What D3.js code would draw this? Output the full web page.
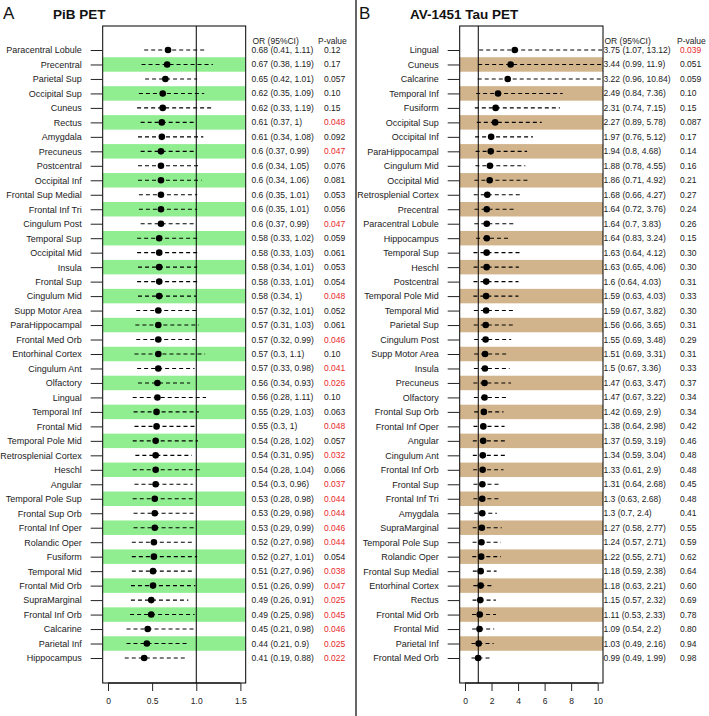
<!DOCTYPE html>
<html><head><meta charset="utf-8">
<script src="https://cdn.jsdelivr.net/npm/d3@7"></script>
<style>body{margin:0;background:#fff}svg{display:block;font-family:"Liberation Sans",Arial,sans-serif}</style>
</head><body><svg id="c" width="709" height="716"></svg>
<script>
// ---------- Data: PiB PET ----------
const pibRegions = ["Paracentral Lobule","Precentral","Parietal Sup","Occipital Sup","Cuneus","Rectus","Amygdala","Precuneus","Postcentral","Occipital Inf","Frontal Sup Medial","Frontal Inf Tri","Cingulum Post","Temporal Sup","Occipital Mid","Insula","Frontal Sup","Cingulum Mid","Supp Motor Area","ParaHippocampal","Frontal Med Orb","Entorhinal Cortex","Cingulum Ant","Olfactory","Lingual","Temporal Inf","Frontal Mid","Temporal Pole Mid","Retrosplenial Cortex","Heschl","Angular","Temporal Pole Sup","Frontal Sup Orb","Frontal Inf Oper","Rolandic Oper","Fusiform","Temporal Mid","Frontal Mid Orb","SupraMarginal","Frontal Inf Orb","Calcarine","Parietal Inf","Hippocampus"];
const pibOR = [0.68,0.67,0.65,0.62,0.62,0.61,0.61,0.6,0.6,0.6,0.6,0.6,0.6,0.58,0.58,0.58,0.58,0.58,0.57,0.57,0.57,0.57,0.57,0.56,0.56,0.55,0.55,0.54,0.54,0.54,0.54,0.53,0.53,0.53,0.52,0.52,0.51,0.51,0.49,0.49,0.45,0.44,0.41];
const pibLo = [0.41,0.38,0.42,0.35,0.33,0.37,0.34,0.37,0.34,0.34,0.35,0.35,0.37,0.33,0.33,0.34,0.33,0.34,0.32,0.31,0.32,0.3,0.33,0.34,0.28,0.29,0.3,0.28,0.31,0.28,0.3,0.28,0.29,0.29,0.27,0.27,0.27,0.26,0.26,0.25,0.21,0.21,0.19];
const pibHi = [1.11,1.19,1.01,1.09,1.19,1,1.08,0.99,1.05,1.06,1.01,1.01,0.99,1.02,1.03,1.01,1.01,1,1.01,1.03,0.99,1.1,0.98,0.93,1.11,1.03,1,1.02,0.95,1.04,0.96,0.98,0.98,0.99,0.98,1.01,0.96,0.99,0.91,0.98,0.98,0.9,0.88];
const pibP = ["0.12","0.17","0.057","0.10","0.15","0.048","0.092","0.047","0.076","0.081","0.053","0.056","0.047","0.059","0.061","0.053","0.054","0.048","0.052","0.061","0.046","0.10","0.041","0.026","0.10","0.063","0.048","0.057","0.032","0.066","0.037","0.044","0.044","0.046","0.044","0.054","0.038","0.047","0.025","0.045","0.046","0.025","0.022"];
const pibTicks = [0, 0.5, 1.0, 1.5];
const pibTickLabels = ["0","0.5","1.0","1.5"];

// ---------- Data: AV-1451 Tau PET ----------
const tauRegions = ["Lingual","Cuneus","Calcarine","Temporal Inf","Fusiform","Occipital Sup","Occipital Inf","ParaHippocampal","Cingulum Mid","Occipital Mid","Retrosplenial Cortex","Precentral","Paracentral Lobule","Hippocampus","Temporal Sup","Heschl","Postcentral","Temporal Pole Mid","Temporal Mid","Parietal Sup","Cingulum Post","Supp Motor Area","Insula","Precuneus","Olfactory","Frontal Sup Orb","Frontal Inf Oper","Angular","Cingulum Ant","Frontal Inf Orb","Frontal Sup","Frontal Inf Tri","Amygdala","SupraMarginal","Temporal Pole Sup","Rolandic Oper","Frontal Sup Medial","Entorhinal Cortex","Rectus","Frontal Mid Orb","Frontal Mid","Parietal Inf","Frontal Med Orb"];
const tauOR = [3.75,3.44,3.22,2.49,2.31,2.27,1.97,1.94,1.88,1.86,1.68,1.64,1.64,1.64,1.63,1.63,1.6,1.59,1.59,1.56,1.55,1.51,1.5,1.47,1.47,1.42,1.38,1.37,1.34,1.33,1.31,1.3,1.3,1.27,1.24,1.22,1.18,1.18,1.15,1.11,1.09,1.03,0.99];
const tauLo = [1.07,0.99,0.96,0.84,0.74,0.89,0.76,0.8,0.78,0.71,0.66,0.72,0.7,0.83,0.64,0.65,0.64,0.63,0.67,0.66,0.69,0.69,0.67,0.63,0.67,0.69,0.64,0.59,0.59,0.61,0.64,0.63,0.7,0.58,0.57,0.55,0.59,0.63,0.57,0.53,0.54,0.49,0.49];
const tauHi = [13.12,11.9,10.84,7.36,7.15,5.78,5.12,4.68,4.55,4.92,4.27,3.76,3.83,3.24,4.12,4.06,4.03,4.03,3.82,3.65,3.48,3.31,3.36,3.47,3.22,2.9,2.98,3.19,3.04,2.9,2.68,2.68,2.4,2.77,2.71,2.71,2.38,2.21,2.32,2.33,2.2,2.16,1.99];
const tauP = ["0.039","0.051","0.059","0.10","0.15","0.087","0.17","0.14","0.16","0.21","0.27","0.24","0.26","0.15","0.30","0.30","0.31","0.33","0.30","0.31","0.29","0.31","0.33","0.37","0.34","0.34","0.42","0.46","0.48","0.48","0.45","0.48","0.41","0.55","0.59","0.62","0.64","0.60","0.69","0.78","0.80","0.94","0.98"];
const tauTicks = [0, 2, 4, 6, 8, 10];
const tauTickLabels = ["0","2","4","6","8","10"];

const svg = d3.select("#c");
const boxTop = 26, boxBottom = 683;

// separator
svg.append("line").attr("x1",356).attr("x2",356).attr("y1",0).attr("y2",716)
  .attr("stroke","#333").attr("stroke-width",1.5);

function panel(o){
  const g = svg.append("g");
  const x = d3.scaleLinear().domain(o.domain).range([o.left, o.right]);
  const y = d3.scalePoint().domain(o.regions).range([50, 658]);
  const step = y.step();
  const id = "clip"+o.key;
  g.append("clipPath").attr("id", id).append("rect")
    .attr("x", o.left).attr("y", boxTop).attr("width", o.right-o.left).attr("height", boxBottom-boxTop);

  // letter & title
  svg.append("text").attr("x", o.letterX).attr("y", 19).attr("font-size", 17).attr("fill","#111").text(o.letter);
  svg.append("text").attr("x", o.titleX).attr("y", 19).attr("font-size", 13.5).attr("font-weight","bold").attr("fill","#111").text(o.title);

  // bands
  g.append("g").attr("clip-path", `url(#${id})`).selectAll("rect")
    .data(o.regions.filter((d,i)=>i%2===1)).join("rect")
    .attr("x", o.left).attr("width", o.right-o.left)
    .attr("y", d => y(d)-step/2).attr("height", step)
    .attr("fill", o.band);

  // reference line at 1
  g.append("line").attr("x1", x(1)).attr("x2", x(1)).attr("y1", boxTop).attr("y2", boxBottom)
    .attr("stroke","#000").attr("stroke-width",1);

  // CIs
  const rows = o.regions.map((r,i)=>({r, or:o.or[i], lo:o.lo[i], hi:o.hi[i], p:o.p[i]}));
  const cg = g.append("g").attr("clip-path", `url(#${id})`);
  cg.selectAll("line.ci").data(rows).join("line").attr("class","ci")
    .attr("x1", d=>x(d.lo)).attr("x2", d=>x(d.hi)).attr("y1", d=>y(d.r)).attr("y2", d=>y(d.r))
    .attr("stroke","#000").attr("stroke-width",1.1).attr("stroke-dasharray","4,3");
  cg.selectAll("circle").data(rows).join("circle")
    .attr("cx", d=>x(d.or)).attr("cy", d=>y(d.r)).attr("r", 3.3).attr("fill","#000");

  // box
  g.append("rect").attr("x", o.left).attr("y", boxTop).attr("width", o.right-o.left).attr("height", boxBottom-boxTop)
    .attr("fill","none").attr("stroke","#000").attr("stroke-width",1);

  // y axis
  const ya = g.append("g").attr("transform", `translate(${o.left},0)`)
    .call(d3.axisLeft(y).tickSize(12).tickPadding(9));
  ya.select(".domain").remove();
  ya.selectAll("line").attr("stroke","#222");
  ya.selectAll("text").attr("font-size", 9).attr("fill","#222").attr("font-family","Liberation Sans, Arial, sans-serif");

  // x axis
  const xa = g.append("g").attr("transform", `translate(0,${boxBottom})`)
    .call(d3.axisBottom(x).tickValues(o.ticks).tickFormat((d,i)=>o.tickLabels[i]).tickSize(8).tickPadding(7).tickSizeOuter(0));
  xa.select(".domain").attr("d", `M${x(o.ticks[0])},0H${x(o.ticks[o.ticks.length-1])}`).attr("stroke","#000");
  xa.selectAll("line").attr("stroke","#222");
  xa.selectAll("text").attr("font-size", 8.5).attr("fill","#222").attr("font-family","Liberation Sans, Arial, sans-serif");

  // text columns
  g.append("text").attr("x", o.orX+1).attr("y", 44).attr("font-size", 8.5).attr("fill","#222").text("OR (95%CI)");
  g.append("text").attr("x", o.pHeadX).attr("y", 44).attr("font-size", 8.5).attr("fill","#222").text("P-value");
  g.selectAll("text.or").data(rows).join("text").attr("class","or")
    .attr("x", o.orX).attr("y", d=>y(d.r)+3).attr("font-size", 8.5).attr("fill","#222")
    .text(d=>`${d.or} (${d.lo}, ${d.hi})`);
  g.selectAll("text.pv").data(rows).join("text").attr("class","pv")
    .attr("x", o.pX).attr("y", d=>y(d.r)+3).attr("font-size", 8.5)
    .attr("fill", d => (+d.p < 0.05 ? "#e8282b" : "#222"))
    .text(d=>d.p);
}

panel({key:"A", letter:"A", letterX:3, title:"PiB PET", titleX:53,
  regions:pibRegions, or:pibOR, lo:pibLo, hi:pibHi, p:pibP,
  domain:[-0.06,1.56], left:102.7, right:245.7, band:"#90ee90",
  ticks:pibTicks, tickLabels:pibTickLabels, orX:251.5, pHeadX:318, pX:324});
panel({key:"B", letter:"B", letterX:359, title:"AV-1451 Tau PET", titleX:410,
  regions:tauRegions, or:tauOR, lo:tauLo, hi:tauHi, p:tauP,
  domain:[-0.4,10.4], left:459.7, right:603, band:"#d2b48c",
  ticks:tauTicks, tickLabels:tauTickLabels, orX:603.5, pHeadX:677, pX:680});
</script></body></html>
